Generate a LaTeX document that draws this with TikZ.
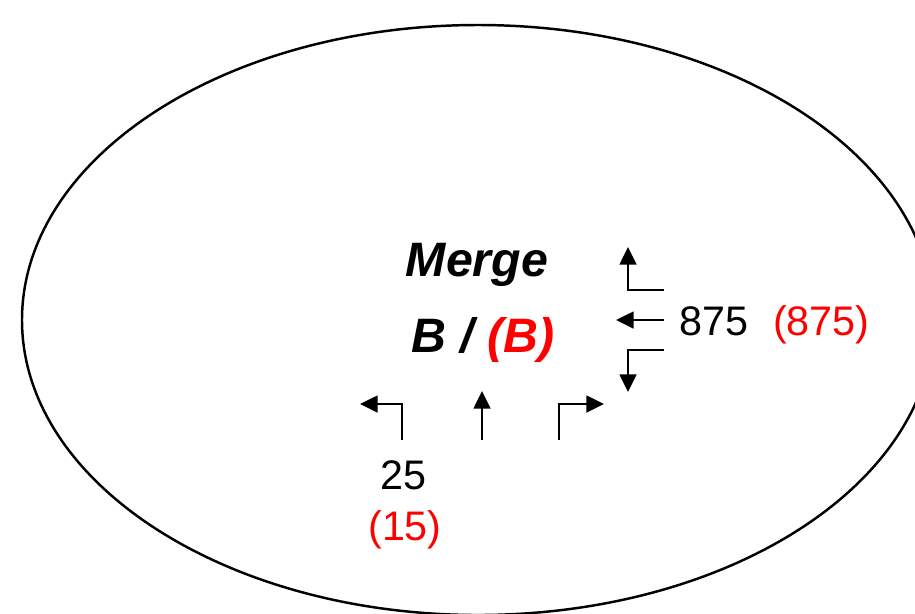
\documentclass[tikz,border=0pt]{standalone}
\usepackage{fontspec}
\setmainfont{Liberation Sans}
\usepackage{xcolor}
\usetikzlibrary{arrows.meta,positioning}

\begin{document}
\begin{tikzpicture}[x=0.02cm, y=-0.02cm,
    turn/.style={line width=1.3pt, -{Triangle[length=10pt,width=9.5pt]}},
    bigtext/.style={font=\fontsize{27.5}{32}\selectfont\bfseries\itshape, anchor=base},
    numtext/.style={font=\fontsize{23.5}{27}\selectfont, anchor=base}
]
\useasboundingbox (0,0) rectangle (915,613);
\clip (0,0) rectangle (915,613);
% Boundary
\draw[line width=1.4pt] (478,320) ellipse [x radius=456, y radius=295];
% Labels
\node[bigtext] (merge) at (477,276) {Merge};
\node[bigtext] (bb) at (483,352) {B / \textcolor{red}{(B)}};
\node[numtext, anchor=base west] (n875) at (673,335) {875};
\node[numtext, anchor=base west, red] (r875) at (767,335) {(875)};
\node[numtext] (n25) at (403,489) {25};
\node[numtext, red] (r15) at (405,540) {(15)};
% Right approach
\coordinate (ru0) at (664,290);
\coordinate (ru1) at (628,290);
\coordinate (ru2) at (628,247);
\coordinate (rt0) at (664,320);
\coordinate (rt1) at (616,320);
\coordinate (rd0) at (664,350);
\coordinate (rd1) at (628,350);
\coordinate (rd2) at (628,392);
\draw[turn] (ru0) -- (ru1) -- (ru2);
\draw[turn] (rt0) -- (rt1);
\draw[turn] (rd0) -- (rd1) -- (rd2);
% Bottom approach
\coordinate (bl0) at (402,440);
\coordinate (bl1) at (402,404);
\coordinate (bl2) at (360,404);
\coordinate (bt0) at (482,440);
\coordinate (bt1) at (482,391);
\coordinate (br0) at (559,440);
\coordinate (br1) at (559,404);
\coordinate (br2) at (604,404);
\draw[turn] (bl0) -- (bl1) -- (bl2);
\draw[turn] (bt0) -- (bt1);
\draw[turn] (br0) -- (br1) -- (br2);
\end{tikzpicture}
\end{document}
